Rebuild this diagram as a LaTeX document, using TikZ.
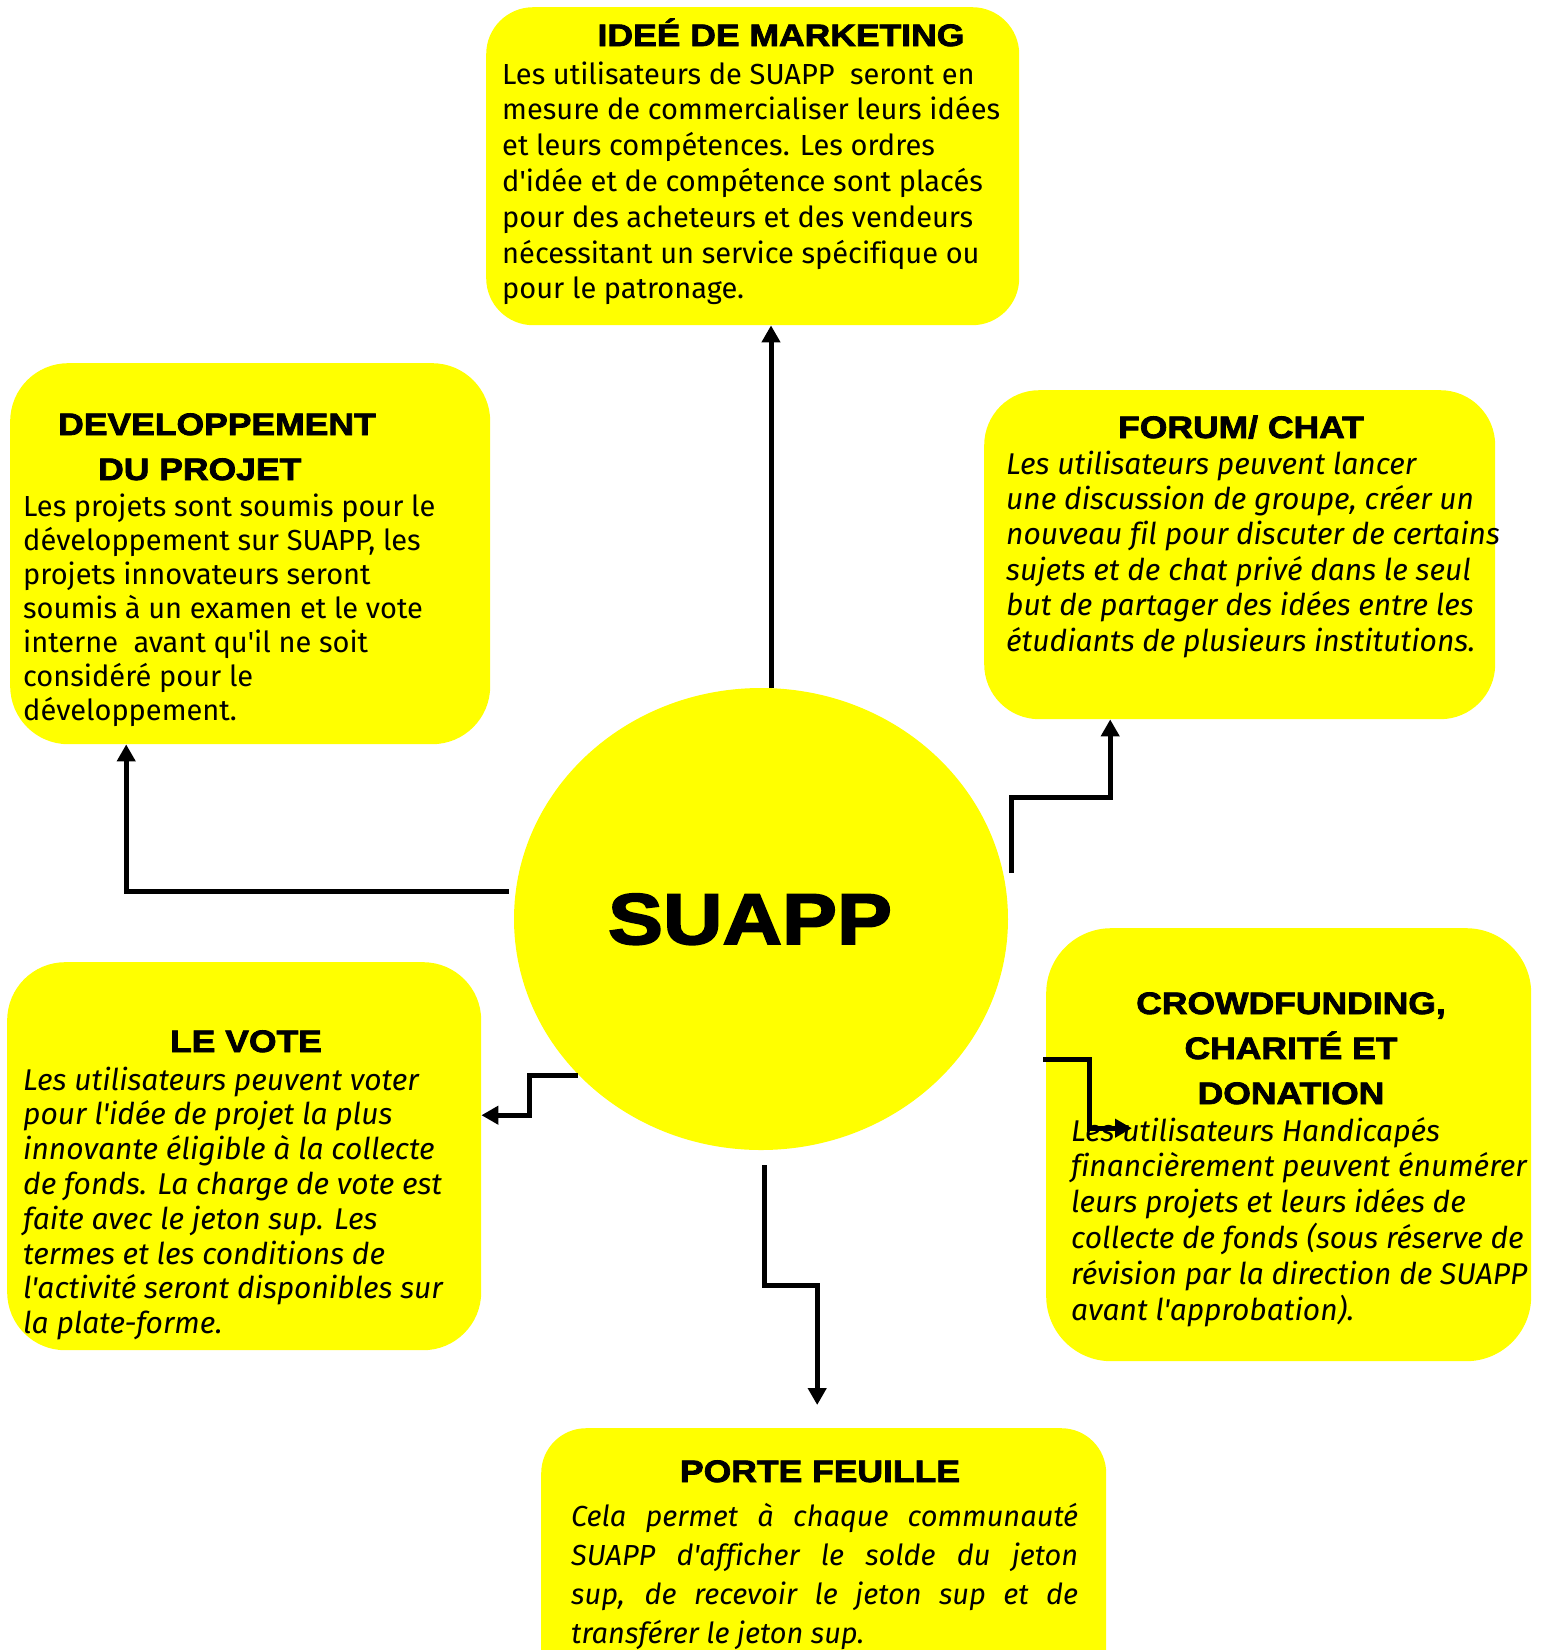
\documentclass[tikz,border=0pt]{standalone}
\usepackage{fontspec}
\setmainfont{Fira Sans}[Ligatures=CommonOff]
\newfontfamily\bodyfont[Ligatures=CommonOff]{Fira Sans}
\newfontfamily\headfont[FakeStretch=1.145,FakeBold=2.5]{Liberation Sans Bold}
\usetikzlibrary{shapes.geometric,arrows.meta}
\definecolor{boxyellow}{HTML}{FFFF00}
\tikzset{
  box/.style={fill=boxyellow, draw=none, anchor=north west, inner sep=0pt},
  conn/.style={line width=5pt, black, -{Triangle[length=17pt,width=18pt]}},
  body/.style={anchor=base west, inner sep=0pt},
  head/.style={anchor=base, inner sep=0pt, font=\headfont\fontsize{31}{45}\selectfont},
}
\begin{document}
\begin{tikzpicture}[x=1pt,y=-1pt]
\useasboundingbox[fill=white] (0,0) rectangle (1550,1650);

% boxes
\node (mkt) [box, rounded corners=47pt, minimum width=533pt, minimum height=318pt] at (486,7) {};
\node (dev) [box, rounded corners=58pt, minimum width=480pt, minimum height=381pt] at (10,363) {};
\node (forum) [box, rounded corners=55pt, minimum width=511pt, minimum height=329pt] at (984,390) {};
\node (crowd) [box, rounded corners=65pt, minimum width=485pt, minimum height=433pt] at (1046,928) {};
\node (vote) [box, rounded corners=58pt, minimum width=474pt, minimum height=388pt] at (7,962) {};
\node (porte) [box, rounded corners=45pt, minimum width=565pt, minimum height=300pt] at (541,1428) {};
\node (suapp) [ellipse, fill=boxyellow, inner sep=0pt, minimum width=494pt, minimum height=462pt] at (761,919) {};

% titles
\node (tmkt) [head] at (781,46) {IDEÉ DE MARKETING};
\node (tdev1) [head, anchor=base west] at (58,435) {DEVELOPPEMENT};
\node (tdev2) [head, anchor=base west] at (98,480) {DU PROJET};
\node (tforum) [head] at (1241,438) {FORUM/ CHAT};
\node (tcrowd) [head] at (1291,1014) {\parbox[t]{420pt}{\centering CROWDFUNDING,\\ CHARITÉ ET\\ DONATION}};
\node (tvote) [head] at (246,1052) {LE VOTE};
\node (tporte) [head] at (820,1482) {PORTE FEUILLE};
\node (tsuapp) [anchor=base, inner sep=0pt, font=\headfont\fontsize{72}{80}\selectfont] at (750,944) {SUAPP};

% bodies
\node (bmkt) [body] at (502,84) {\parbox[t]{600pt}{\bodyfont\fontsize{29}{35.8}\selectfont\raggedright
Les utilisateurs de SUAPP\ \ seront en\\
mesure de commercialiser leurs idées\\
et leurs compétences. Les ordres\\
d'idée et de compétence sont placés\\
pour des acheteurs et des vendeurs\\
nécessitant un service spécifique ou\\
pour le patronage.}};

\node (bdev) [body] at (23,516) {\parbox[t]{600pt}{\bodyfont\fontsize{29}{34}\selectfont\raggedright
Les projets sont soumis pour le\\
développement sur SUAPP, les\\
projets innovateurs seront\\
soumis à un examen et le vote\\
interne\ \ avant qu'il ne soit\\
considéré pour le\\
développement.}};

\node (bforum) [body] at (1006,474) {\parbox[t]{600pt}{\bodyfont\fontsize{30}{35.4}\selectfont\itshape\raggedright
Les utilisateurs peuvent lancer\\
une discussion de groupe, créer un\\
nouveau fil pour discuter de certains\\
sujets et de chat privé dans le seul\\
but de partager des idées entre les\\
étudiants de plusieurs institutions.}};

\node (bcrowd) [body] at (1071,1141) {\parbox[t]{600pt}{\bodyfont\fontsize{30}{35.8}\selectfont\itshape\raggedright
Les utilisateurs Handicapés\\
financièrement peuvent énumérer\\
leurs projets et leurs idées de\\
collecte de fonds (sous réserve de\\
révision par la direction de SUAPP\\
avant l'approbation).}};

\node (bvote) [body] at (23,1090) {\parbox[t]{600pt}{\bodyfont\fontsize{30}{34.8}\selectfont\itshape\raggedright
Les utilisateurs peuvent voter\\
pour l'idée de projet la plus\\
innovante éligible à la collecte\\
de fonds. La charge de vote est\\
faite avec le jeton sup. Les\\
termes et les conditions de\\
l'activité seront disponibles sur\\
la plate-forme.}};

\node (bporte) [body] at (571,1526) {\parbox[t]{600pt}{\bodyfont\fontsize{29}{39}\selectfont\itshape\raggedright
\makebox[507pt][s]{Cela permet à chaque communauté}\\
\makebox[507pt][s]{SUAPP d'afficher le solde du jeton}\\
\makebox[507pt][s]{sup, de recevoir le jeton sup et de}\\
transférer le jeton sup.}};

% connectors
\draw[conn] ([xshift=10pt]suapp.north) -- ([xshift=10pt]suapp.north |- mkt.south);
\draw[conn] ([xshift=-5pt,yshift=28pt]suapp.west) -| ([xshift=-124pt]dev.south);
\draw[conn] ([xshift=3pt,yshift=46pt]suapp.east) -- ++(0,-76) -| ([xshift=-129.5pt]forum.south);
\draw[conn] ([xshift=-3pt,yshift=85.5pt]crowd.west) -| ++(46,69) -- ++(43,0);
\draw[conn] ([xshift=64pt,yshift=-156pt]suapp.west) -- ++(-48,0) |- ([yshift=41pt]vote.east);
\draw[conn] ([xshift=3pt,yshift=-15pt]suapp.south) -- ++(0,120) -| ([xshift=-6.5pt,yshift=23pt]porte.north);
\end{tikzpicture}
\end{document}
